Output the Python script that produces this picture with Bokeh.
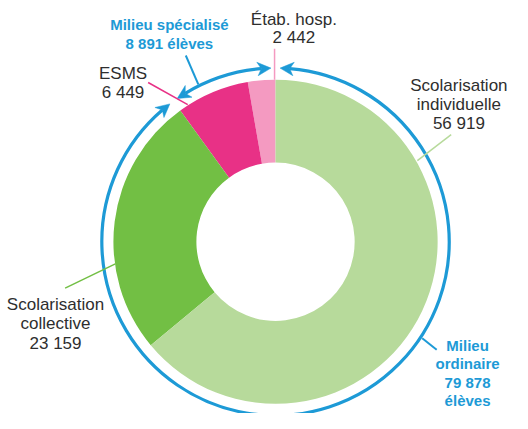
import math
from bokeh.plotting import figure
from bokeh.models import Range1d
from bokeh.core.properties import value
from bokeh.embed import file_html
from bokeh.resources import INLINE

# ---- data ----
categories = ["Étab. hosp.", "ESMS", "Scolarisation collective", "Scolarisation individuelle"]
values = [2442, 6449, 23159, 56919]
group_names = ["Milieu spécialisé", "Milieu ordinaire"]
group_totals = [8891, 79878]
value_labels = ["2 442", "6 449", "23 159", "56 919"]
group_value_labels = ["8 891", "79 878"]

# ---- styles / layout ----
colors = ["#f49ac1", "#e83186", "#72bf44", "#b7da9b"]
BLUE = "#1d9ad6"
DARK = "#2e2e2e"
FONT = "Liberation Sans"
S = 0.965                      # screen px per layout unit
FS_REG = "17px"
FS_BOLD = "15px"
CX, CY = 285, 250              # layout centre of the donut

W, H = 512, 413
p = figure(width=W, height=H, output_backend="svg", toolbar_location=None,
           x_range=Range1d(-CX, -CX + W / S), y_range=Range1d(CY - H / S, CY),
           min_border=0)
p.axis.visible = False
p.grid.visible = False
p.outline_line_color = None
p.background_fill_color = "white"


def L(X, Y):
    return X - CX, CY - Y


R_IN, R_OUT, R_RING = 82, 168, 180

# wedges (anticlockwise from top)
total = sum(values)
starts, ends = [], []
a = math.pi / 2
for v in values:
    starts.append(a)
    a += 2 * math.pi * v / total
    ends.append(a)
p.annular_wedge(x=0, y=0, inner_radius=R_IN, outer_radius=R_OUT,
                start_angle=starts, end_angle=ends, color=colors,
                line_color=None)

# ring arrows
top = math.pi / 2
split = ends[1]  # boundary between specialised and ordinary
gap = math.radians(1.5)
head_len = 14.0
head_w = 7.0
notch = 4.0


def head(tip_ang, direction):
    back = tip_ang - direction * head_len / R_RING
    nb = tip_ang - direction * (head_len - notch) / R_RING
    pts = [
        (R_RING * math.cos(tip_ang), R_RING * math.sin(tip_ang)),
        ((R_RING + head_w) * math.cos(back), (R_RING + head_w) * math.sin(back)),
        (R_RING * math.cos(nb), R_RING * math.sin(nb)),
        ((R_RING - head_w) * math.cos(back), (R_RING - head_w) * math.sin(back)),
    ]
    return [q[0] for q in pts], [q[1] for q in pts], nb


xs1, ys1, n1 = head(top + gap, -1)
xs2, ys2, n2 = head(split - gap, +1)
p.arc(x=0, y=0, radius=R_RING, start_angle=n1, end_angle=n2,
      line_color=BLUE, line_width=3.2)
xs3, ys3, n3 = head(split + gap, -1)
xs4, ys4, n4 = head(top - gap + 2 * math.pi, +1)
p.arc(x=0, y=0, radius=R_RING, start_angle=n3, end_angle=n4,
      line_color=BLUE, line_width=3.2)
p.patches(xs=[xs1, xs2, xs3, xs4], ys=[ys1, ys2, ys3, ys4],
          color=BLUE, line_color=BLUE, line_width=0.5)

# leader lines (layout, in reference pixels)
leaders = [
    ((284, 50), (284, 82), colors[0], 1.5),
    ((153, 85), (194, 108), colors[1], 1.5),
    ((67, 298), (119, 273), colors[2], 1.5),
    ((467, 139), (432, 166), colors[3], 1.5),
    ((192, 57), (205, 87), BLUE, 2),
    ((437, 350), (452, 362), BLUE, 2),
]
for p0, p1, c, w in leaders:
    a0, b0 = L(*p0)
    a1, b1 = L(*p1)
    p.line(x=[a0, a1], y=[b0, b1], line_color=c, line_width=w)


def txt(X, Y, lines, color, bold=False, step=21):
    n = len(lines)
    x0, y0 = L(X, Y)
    yy = [y0 - i * step for i in range(n)]
    p.text(x=[x0] * n, y=yy, text=lines, text_color=color,
           text_font=value(FONT), text_font_size=FS_BOLD if bold else FS_REG,
           text_font_style="bold" if bold else "normal",
           text_align="center", text_baseline="middle")


txt(304, 20, [categories[0], value_labels[0]], DARK, step=18.5)
txt(127, 76, [categories[1], value_labels[1]], DARK, step=19)
txt(57, 315, ["Scolarisation", "collective", value_labels[2]], DARK, step=20)
txt(475, 88, ["Scolarisation", "individuelle", value_labels[3]], DARK, step=19.5)
txt(175, 25, [group_names[0], group_value_labels[0] + " élèves"], BLUE, bold=True, step=19.5)
txt(484, 357, ["Milieu", "ordinaire", group_value_labels[1], "élèves"], BLUE, bold=True, step=19.2)

open("out.html", "w").write(file_html(p, INLINE))
